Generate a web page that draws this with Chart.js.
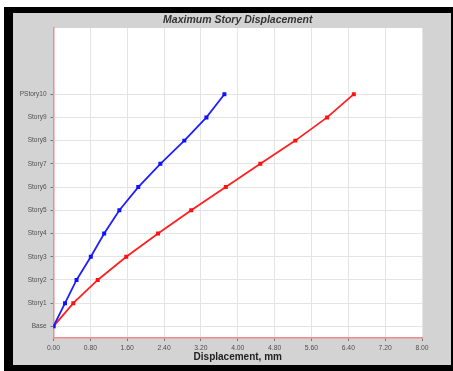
<!DOCTYPE html>
<html>
<head>
<meta charset="utf-8">
<script src="https://cdn.jsdelivr.net/npm/chart.js@4"></script>
<style>
  html, body { margin: 0; padding: 0; background: #fff; }
  #wrap { position: relative; width: 453px; height: 371px; }
</style>
</head>
<body>
<div id="wrap"><canvas id="chart" width="453" height="371"></canvas></div>
<script>
const chartTitle = "Maximum Story Displacement";
const storyLabels = ["Base", "Story1", "Story2", "Story3", "Story4", "Story5", "Story6", "Story7", "Story8", "Story9", "PStory10"];
const blueDisp = [0, 0.25, 0.50, 0.81, 1.10, 1.43, 1.84, 2.32, 2.84, 3.32, 3.71];
const redDisp = [0, 0.43, 0.96, 1.58, 2.27, 2.99, 3.74, 4.49, 5.25, 5.94, 6.52];
const xTicks = [0, 0.8, 1.6, 2.4, 3.2, 4.0, 4.8, 5.6, 6.4, 7.2, 8.0];

const toPoints = vals => vals.map((v, i) => ({ x: v, y: i }));

// grey panel with black frame, white plot area, title centred over the plot
const framePlugin = {
    id: "frame",
    beforeDraw(chart) {
        const ctx = chart.ctx;
        const a = chart.chartArea;
        ctx.save();
        ctx.fillStyle = "#ffffff";
        ctx.fillRect(0, 0, chart.width, chart.height);
        ctx.fillStyle = "#000000";
        ctx.fillRect(4, 7, chart.width - 4, chart.height - 7);
        ctx.fillStyle = "#d3d3d3";
        ctx.fillRect(13, 13, chart.width - 15, chart.height - 19);
        ctx.fillStyle = "#ffffff";
        ctx.fillRect(a.left, a.top, a.right - a.left, a.bottom - a.top);
        ctx.restore();
    },
    afterDraw(chart) {
        const ctx = chart.ctx;
        const a = chart.chartArea;
        ctx.save();
        ctx.fillStyle = "#333333";
        ctx.font = "italic bold 10.5px 'Liberation Sans'";
        ctx.textAlign = "center";
        ctx.textBaseline = "middle";
        ctx.fillText(chartTitle, (a.left + a.right) / 2, 20);
        ctx.restore();
    }
};

const chartCanvas = document.getElementById("chart").getContext("2d");
new Chart(chartCanvas, {
    type: "scatter",
    data: {
        datasets: [
            {
                label: "Blue",
                data: toPoints(blueDisp),
                showLine: true,
                borderColor: "#2020ff",
                backgroundColor: "#1010ff",
                borderWidth: 1.8,
                pointStyle: "rect",
                pointRadius: 2.8,
                pointBorderWidth: 0,
            },
            {
                label: "Red",
                data: toPoints(redDisp),
                showLine: true,
                borderColor: "#ff2020",
                backgroundColor: "#ff1010",
                borderWidth: 1.8,
                pointStyle: "rect",
                pointRadius: 2.8,
                pointBorderWidth: 0,
            },
        ],
    },
    options: {
        responsive: false,
        animation: false,
        devicePixelRatio: 1,
        layout: { padding: { left: 0, right: 31, top: 28, bottom: 0 } },
        plugins: {
            legend: { display: false },
            tooltip: { enabled: false },
            title: { display: false },
        },
        scales: {
            x: {
                type: "linear",
                min: 0,
                max: 8,
                afterBuildTicks: scale => {
                    scale.ticks = xTicks.map(v => ({ value: v }));
                },
                afterFit: scale => {
                    scale.height = 33;
                },
                ticks: {
                    callback: value => Number(value).toFixed(2),
                    color: "#505050",
                    font: { family: "Liberation Sans", size: 6.8 },
                    padding: 3,
                    maxRotation: 0,
                    autoSkip: false,
                },
                grid: {
                    color: "#e4e4e4",
                    tickColor: "#777777",
                    tickLength: 3,
                    lineWidth: 1,
                },
                border: { color: "#f08c8c", width: 1.5 },
                title: {
                    display: true,
                    text: "Displacement, mm",
                    color: "#222222",
                    font: { family: "Liberation Sans", size: 10, weight: "bold" },
                    padding: { top: 8, bottom: 8 },
                },
            },
            y: {
                type: "linear",
                min: -0.5,
                max: 12.85,
                afterBuildTicks: scale => {
                    scale.ticks = storyLabels.map((s, i) => ({ value: i }));
                },
                afterFit: scale => {
                    scale.width = 53.5;
                },
                ticks: {
                    callback: value => storyLabels[value],
                    color: "#505050",
                    font: { family: "Liberation Sans", size: 6.5 },
                    padding: 4,
                    autoSkip: false,
                },
                grid: {
                    color: "#e4e4e4",
                    tickColor: "#777777",
                    tickLength: 3,
                    lineWidth: 1,
                },
                border: { color: "#f08c8c", width: 1.5 },
            },
        },
    },
    plugins: [framePlugin],
});
</script>
</body>
</html>
